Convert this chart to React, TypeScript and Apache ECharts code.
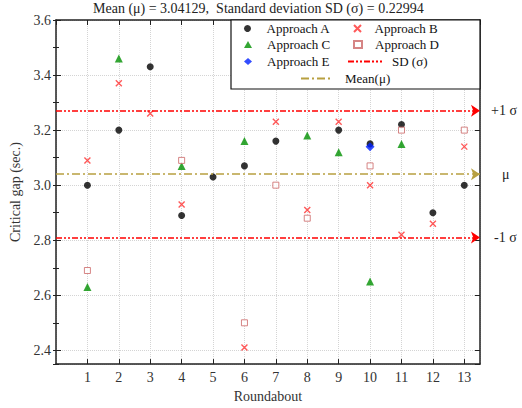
import React, { useEffect, useRef } from "react";
import * as echarts from "echarts";

const roundabouts = [1, 2, 3, 4, 5, 6, 7, 8, 9, 10, 11, 12, 13];
const approachA = [3.0, 3.2, 3.43, 2.89, 3.03, 3.07, 3.16, null, 3.2, 3.15, 3.22, 2.9, 3.0];
const approachB = [3.09, 3.37, 3.26, 2.93, null, 2.41, 3.23, 2.91, 3.23, 3.0, 2.82, 2.86, 3.14];
const approachC = [2.63, 3.46, null, 3.07, null, 3.16, null, 3.18, 3.12, 2.65, 3.15, null, null];
const approachD = [2.69, null, null, 3.09, null, 2.5, 3.0, 2.88, null, 3.07, 3.2, null, 3.2];
const approachE = [null, null, null, null, null, null, null, null, null, 3.14, null, null, null];
const meanValue = 3.04129;
const sdValue = 0.22994;
const titleText = "Mean (\u03bc) = 3.04129,  Standard deviation SD (\u03c3) = 0.22994";
const yMin = 2.35;
const yMax = 3.6;
const xMin = 0;
const xMax = 13.5;

const FONT = "'Liberation Serif', 'Times New Roman', serif";
const X_PATH = "path://M0,0L10,10M10,0L0,10";

const pairs = (arr: (number | null)[]) =>
  arr
    .map((v, i) => (v == null ? null : [roundabouts[i], v]))
    .filter((p) => p !== null);

const legendItem = (
  name: string,
  left: number,
  rowY: number,
  itemWidth: number,
  textPad: number,
  hideSymbol = false
) => ({
  data: [name],
  left,
  top: rowY - 8,
  orient: "horizontal",
  padding: 0,
  itemWidth,
  itemHeight: 7,
  itemGap: 0,
  selectedMode: false,
  symbolKeepAspect: true,
  z: 10,
  ...(hideSymbol ? { itemStyle: { opacity: 0 } } : {}),
  textStyle: { fontFamily: FONT, fontSize: 13, color: "#111", padding: [0, 0, 0, textPad] },
});

export default function App() {
  const ref = useRef<HTMLDivElement>(null);

  useEffect(() => {
    document.body.style.margin = "0";
    const chart = echarts.init(ref.current!, null, { renderer: "svg" });
    const gridLine = { show: true, lineStyle: { color: "#d4d4d4", type: "dotted", width: 1 } };
    const axisLine = { show: true, onZero: false, lineStyle: { color: "#222", width: 1.5 } };
    const labelStyle = { fontFamily: FONT, fontSize: 14, color: "#333" };

    const sdLine = { color: "#ff0000", width: 1.5, type: [6, 2, 2, 2, 2, 2] };
    const meanLine = { color: "#b8a040", width: 1.5, type: [8, 3, 2, 3] };

    chart.setOption({
      animation: false,
      title: {
        text: titleText,
        left: 93,
        top: 1,
        padding: 0,
        textStyle: { fontFamily: FONT, fontSize: 14, fontWeight: "normal", color: "#222" },
      },
      grid: { left: 56, right: 42, top: 20, bottom: 38, containLabel: false },
      xAxis: [
        {
          type: "value",
          position: "bottom",
          min: xMin,
          max: xMax,
          interval: 1,
          name: "Roundabout",
          nameLocation: "middle",
          nameGap: 22,
          nameTextStyle: { fontFamily: FONT, fontSize: 14, color: "#333" },
          axisLine,
          axisTick: { show: true, inside: true, length: 5, lineStyle: { color: "#222" } },
          axisLabel: { ...labelStyle, margin: 6, showMinLabel: false, showMaxLabel: false },
          splitLine: gridLine,
        },
        {
          type: "value",
          position: "top",
          min: xMin,
          max: xMax,
          interval: 1,
          axisLine,
          axisTick: { show: true, inside: true, length: 5, lineStyle: { color: "#222" } },
          axisLabel: { show: false },
          splitLine: { show: false },
        },
      ],
      yAxis: [
        {
          type: "value",
          position: "left",
          min: yMin,
          max: yMax,
          splitNumber: 6,
          name: "Critical gap (sec.)",
          nameLocation: "middle",
          nameGap: 31,
          nameTextStyle: { fontFamily: FONT, fontSize: 14, color: "#333" },
          axisLine,
          axisTick: { show: true, inside: true, length: 5, lineStyle: { color: "#222" } },
          axisLabel: {
            ...labelStyle,
            margin: 5,
            showMinLabel: false,
            formatter: (v: number) => v.toFixed(1),
          },
          splitLine: gridLine,
        },
        {
          type: "value",
          position: "left",
          min: yMin,
          max: yMax,
          splitNumber: 12,
          axisLine: { show: false },
          axisTick: { show: true, inside: true, length: 3, lineStyle: { color: "#222" } },
          axisLabel: { show: false },
          splitLine: { show: false },
        },
        {
          type: "value",
          position: "right",
          min: yMin,
          max: yMax,
          splitNumber: 6,
          axisLine,
          axisTick: { show: true, inside: true, length: 5, lineStyle: { color: "#222" } },
          axisLabel: { show: false },
          splitLine: { show: false },
        },
        {
          type: "value",
          position: "right",
          min: yMin,
          max: yMax,
          splitNumber: 12,
          axisLine: { show: false },
          axisTick: { show: true, inside: true, length: 3, lineStyle: { color: "#222" } },
          axisLabel: { show: false },
          splitLine: { show: false },
        },
      ],
      legend: [
        legendItem("Approach A", 244, 30, 8, 10),
        legendItem("Approach C", 244, 46, 8, 10),
        legendItem("Approach E", 244, 63, 8, 10),
        legendItem("Approach B", 353, 30, 8, 8),
        legendItem("Approach D", 353, 46, 8, 8),
        legendItem("SD (\u03c3)", 347, 63, 34, 5, true),
        legendItem("Mean(\u03bc)", 300, 80, 30, 9, true),
      ],
      graphic: [
        {
          type: "rect",
          shape: { x: 231, y: 20, width: 249, height: 69 },
          style: { fill: "#fff", stroke: "#111", lineWidth: 1.2 },
          z: 8,
        },
      ],
      series: [
        {
          name: "Approach A",
          type: "scatter",
          data: pairs(approachA),
          symbol: "circle",
          symbolSize: 7,
          itemStyle: { color: "#000" },
          z: 3,
        },
        {
          name: "Approach B",
          type: "scatter",
          data: pairs(approachB),
          symbol: X_PATH,
          symbolSize: 6,
          itemStyle: { color: "rgba(255,80,80,0.3)", borderColor: "#ff3030", borderWidth: 1.4 },
          z: 3,
        },
        {
          name: "Approach C",
          type: "scatter",
          data: pairs(approachC),
          symbol: "triangle",
          symbolSize: 8,
          itemStyle: { color: "#009000" },
          z: 3,
        },
        {
          name: "Approach D",
          type: "scatter",
          data: pairs(approachD),
          symbol: "rect",
          symbolSize: 6,
          itemStyle: { color: "#fff", borderColor: "#cc6666", borderWidth: 1 },
          z: 3,
        },
        {
          name: "Approach E",
          type: "scatter",
          data: pairs(approachE),
          symbol: "diamond",
          symbolSize: 9,
          itemStyle: { color: "#0020ff" },
          z: 4,
        },
        {
          name: "SD (\u03c3)",
          type: "line",
          data: [],
          symbol: "none",
          lineStyle: sdLine,
          itemStyle: { color: "#ff0000" },
          markLine: {
            silent: true,
            symbol: ["none", "arrow"],
            symbolSize: 9,
            lineStyle: sdLine,
            label: {
              position: "end",
              fontFamily: FONT,
              fontSize: 14,
              color: "#222",
            },
            data: [
              { yAxis: meanValue + sdValue, label: { formatter: "+1 \u03c3", distance: 11 } },
              { yAxis: meanValue - sdValue, label: { formatter: "-1 \u03c3", distance: 14 } },
            ],
          },
        },
        {
          name: "Mean(\u03bc)",
          type: "line",
          data: [],
          symbol: "none",
          lineStyle: meanLine,
          itemStyle: { color: "#b8a040" },
          markLine: {
            silent: true,
            symbol: ["none", "arrow"],
            symbolSize: 9,
            lineStyle: meanLine,
            label: {
              position: "end",
              fontFamily: FONT,
              fontSize: 14,
              color: "#222",
            },
            data: [{ yAxis: meanValue, label: { formatter: "\u03bc", distance: 22 } }],
          },
        },
      ],
    });
    return () => chart.dispose();
  }, []);

  return <div ref={ref} style={{ width: 522, height: 408 }} />;
}
